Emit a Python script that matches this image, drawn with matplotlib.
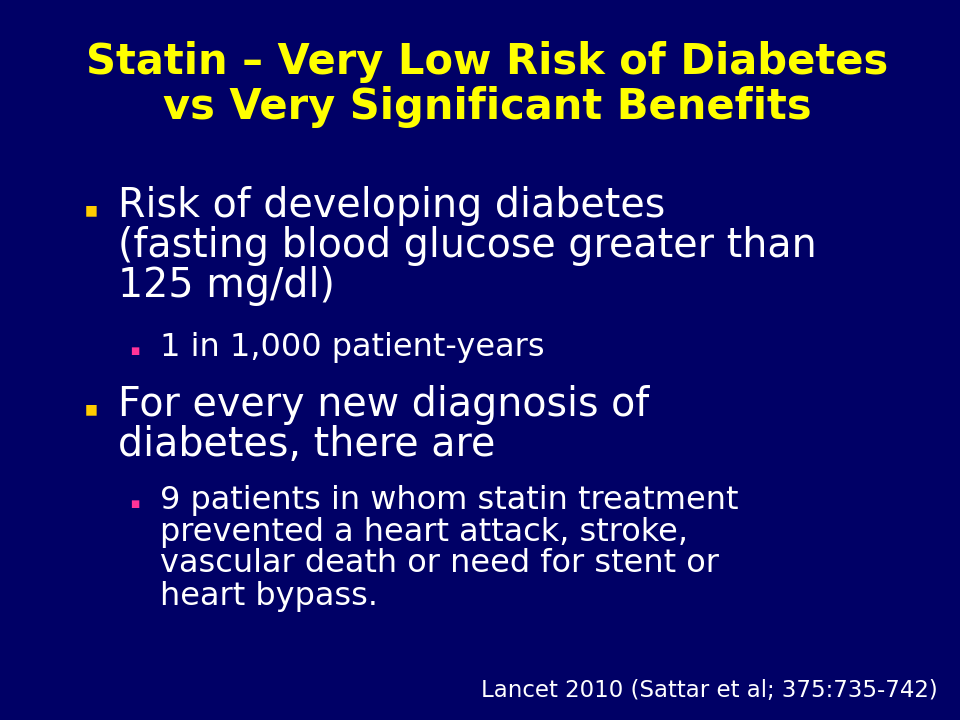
import matplotlib.pyplot as plt

title_lines = ["Statin – Very Low Risk of Diabetes", "vs Very Significant Benefits"]
bullets = [
    (1, ["Risk of developing diabetes", "(fasting blood glucose greater than", "125 mg/dl)"], 206),
    (2, ["1 in 1,000 patient-years"], 347),
    (1, ["For every new diagnosis of", "diabetes, there are"], 405),
    (2, ["9 patients in whom statin treatment", "prevented a heart attack, stroke,",
         "vascular death or need for stent or", "heart bypass."], 500),
]
citation = "Lancet 2010 (Sattar et al; 375:735-742)"

W, H = 960, 720
fig = plt.figure(figsize=(9.6, 7.2), dpi=100)
fig.patch.set_facecolor("#000066")

def t(x, y, s, **kw):
    fig.text(x / W, 1 - y / H, s, **kw)

for i, line in enumerate(title_lines):
    t(487, 62 + i * 45, line, color="#ffff00", fontsize=30, fontweight="bold",
      ha="center", va="center")

for level, lines, y0 in bullets:
    if level == 1:
        bx, tx, fs, step, col, sq = 91, 118, 28.5, 40, "#ffcc00", 7
    else:
        bx, tx, fs, step, col, sq = 135, 160, 23, 32, "#ff3399", 5
    t(bx, y0 + 4, "■", color=col, fontsize=sq * 1.4, ha="center", va="center")
    for j, line in enumerate(lines):
        t(tx, y0 + j * step, line, color="white", fontsize=fs, va="center")

t(938, 690, citation, color="white", fontsize=16.5, ha="right", va="center")

fig.savefig("out.png", dpi=100, facecolor=fig.get_facecolor())
